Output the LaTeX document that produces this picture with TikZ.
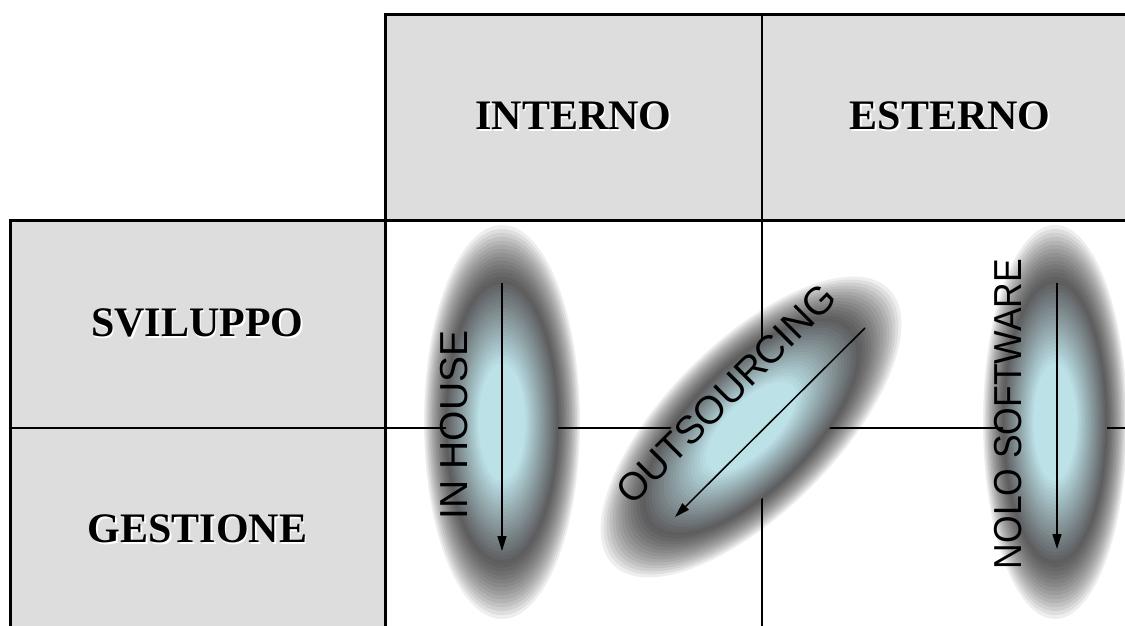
\documentclass[tikz,border=0pt]{standalone}
\usepackage{fontspec}
\setmainfont{Liberation Serif}
\newfontfamily\arialf{Liberation Sans}
\usepackage{graphicx}
\usetikzlibrary{arrows.meta}
\definecolor{cellgray}{RGB}{221,221,221}
\definecolor{blobdark}{rgb}{0.37,0.37,0.38}
\definecolor{blobin}{RGB}{188,226,232}
\newcommand\shadowtext[1]{\makebox[0pt][l]{\hspace{1.6pt}\raisebox{-1.6pt}{\color{white}#1}}#1}
\newcommand\blobfill[5]{%
  \begin{scope}[shift={(#1,#2)},rotate=#5]
    \foreach \i in {50,49,...,37}{%
      \fill[black,opacity=0.065] (0,0) ellipse [x radius={\i/50*#3}, y radius={\i/50*#4}];}
    \foreach \i in {36,35,...,1}{%
      \pgfmathtruncatemacro\blobt{min(100,(36-\i)/21*100)}%
      \fill[blobin!\blobt!blobdark] (0,0) ellipse [x radius={\i/50*#3}, y radius={\i/50*#4}];}
  \end{scope}}
\begin{document}
\begin{tikzpicture}[x=1pt,y=-1pt,
  cell/.style={fill=cellgray, inner sep=0pt, outer sep=0pt, font=\bfseries\fontsize{42}{42}\selectfont},
  thickline/.style={line width=3pt, line cap=rect},
  thinline/.style={line width=2pt},
  arr/.style={line width=1.5pt, -{Triangle[length=15pt,width=9pt]}},
  blobtext/.style={inner sep=0pt, font=\arialf\fontsize{39}{39}\selectfont}]
\useasboundingbox (0,0) rectangle (1125,625);
\clip (0,0) rectangle (1125,625);
% header and row cells
\node[cell, minimum width=377pt, minimum height=206pt] (interno) at (573.5,117) {\shadowtext{INTERNO}};
\node[cell, minimum width=376pt, minimum height=206pt] (esterno) at (950,117) {\shadowtext{ESTERNO}};
\node[cell, minimum width=375pt, minimum height=208pt] (sviluppo) at (197.5,324) {\shadowtext{SVILUPPO}};
\node[cell, minimum width=375pt, minimum height=204pt] (gestione) at (197.5,530) {\shadowtext{GESTIONE}};
% grid lines
\draw[thickline] (interno.north west) -- (esterno.north east);
\draw[thickline] (interno.north west) -- (interno.north west |- gestione.south);
\draw[thickline] (sviluppo.north west) -- (sviluppo.north west -| esterno.east);
\draw[thickline] (sviluppo.north west) -- (gestione.south west);
\draw[thinline] (interno.north east) -- (interno.north east |- gestione.south);
\draw[thinline] (sviluppo.south west) -- (sviluppo.south west -| esterno.east);
% blobs
\blobfill{502}{422}{78}{197}{0}
\blobfill{751}{427}{195}{85}{45}
\blobfill{1055}{422}{72}{197}{0}
% arrows
\coordinate (ih1) at (502,283);
\coordinate (ih2) at (502,551);
\coordinate (os1) at (865,328);
\coordinate (os2) at (675,517);
\coordinate (ns1) at (1057,283);
\coordinate (ns2) at (1057,549);
\draw[arr] (ih1) -- (ih2);
\draw[arr] (os1) -- (os2);
\draw[arr] (ns1) -- (ns2);
% labels
\node[blobtext, rotate=90] (inhouse) at (454,425) {IN HOUSE};
\node[blobtext, rotate=45] (outs) at (726,394) {OUTSOURCING};
\node[blobtext, rotate=90] (nolo) at (1008,414) {\scalebox{0.91}[1]{NOLO SOFTWARE}};
\end{tikzpicture}
\end{document}
